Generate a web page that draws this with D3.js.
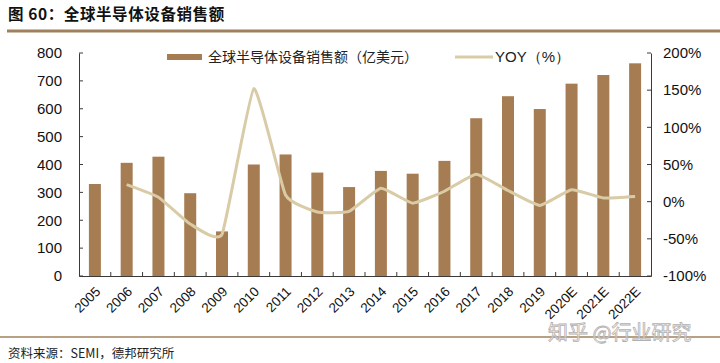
<!DOCTYPE html>
<html>
<head>
<meta charset="utf-8">
<script src="https://cdn.jsdelivr.net/npm/d3@7/dist/d3.min.js"></script>
<style>
  body { margin: 0; background: #fff; }
  svg { display: block; font-family: "Liberation Sans", Arial, sans-serif; }
</style>
</head>
<body>
<div id="chart"></div>
<script>
// Data
const years = ['2005', '2006', '2007', '2008', '2009', '2010', '2011', '2012', '2013',
  '2014', '2015', '2016', '2017', '2018', '2019', '2020E', '2021E', '2022E'];
const sales = [330, 406, 428, 297, 160, 400, 436, 371, 319, 377, 367, 413, 566, 645, 599, 690, 721, 763];
const yoy = [null, 23, 6, -30, -44, 152, 9, -14, -13, 18, -2, 14, 37, 15, -5, 16, 5, 7];
const leftTicks = [0, 100, 200, 300, 400, 500, 600, 700, 800];
const rightTicks = [-100, -50, 0, 50, 100, 150, 200];

const BAR_COLOR = '#a67d52';
const LINE_COLOR = '#d9cba5';
const AXIS_COLOR = '#3a3a3a';

const width = 720, height = 363;
const margin = { top: 53, right: 69, bottom: 87, left: 79 };
const innerW = width - margin.left - margin.right;
const innerH = height - margin.top - margin.bottom;

const svg = d3.select('#chart').append('svg')
  .attr('width', width)
  .attr('height', height);

// Title + rules
svg.append('text')
  .attr('x', 8).attr('y', 20)
  .attr('font-family', '"Noto Sans CJK SC", sans-serif')
  .attr('font-size', '15.5px')
  .attr('font-weight', 'bold')
  .attr('letter-spacing', '0.6px')
  .attr('fill', '#111')
  .text('图 60：全球半导体设备销售额');

svg.append('line')
  .attr('x1', 7).attr('x2', width).attr('y1', 31).attr('y2', 31)
  .attr('stroke', '#a0805c').attr('stroke-width', 3);

svg.append('line')
  .attr('x1', 0).attr('x2', width).attr('y1', 337).attr('y2', 337)
  .attr('stroke', '#a0805c').attr('stroke-width', 1.5);

const g = svg.append('g')
  .attr('transform', `translate(${margin.left},${margin.top})`);

const xCenter = d3.scaleBand().domain(years).range([0, innerW]);
const yLeft = d3.scaleLinear().domain([0, 800]).range([innerH, 0]);
const yRight = d3.scaleLinear().domain([-100, 200]).range([innerH, 0]);

// Bars
g.selectAll('.bar')
  .data(years)
  .join('rect')
  .attr('class', 'bar')
  .attr('x', d => xCenter(d) + xCenter.bandwidth() / 2 - 6)
  .attr('width', 12)
  .attr('y', (d, i) => yLeft(sales[i]))
  .attr('height', (d, i) => innerH - yLeft(sales[i]))
  .attr('fill', BAR_COLOR);

// YOY line
const lineData = years.map((d, i) => ({ year: d, v: yoy[i] })).filter(d => d.v !== null);
const line = d3.line()
  .x(d => xCenter(d.year) + xCenter.bandwidth() / 2)
  .y(d => yRight(d.v))
  .curve(d3.curveCardinal.tension(0.6));

g.append('path')
  .datum(lineData)
  .attr('d', line)
  .attr('fill', 'none')
  .attr('stroke', LINE_COLOR)
  .attr('stroke-width', 3)
  .attr('stroke-linejoin', 'round');

// Left axis
const leftAxis = g.append('g')
  .call(d3.axisLeft(yLeft).tickValues(leftTicks).tickSize(0).tickPadding(17));
leftAxis.select('.domain').attr('stroke', AXIS_COLOR);
leftAxis.selectAll('text').attr('font-size', '15px').attr('fill', '#111');
g.selectAll('.ltick').data(leftTicks).join('line')
  .attr('x1', 0).attr('x2', 4)
  .attr('y1', d => yLeft(d)).attr('y2', d => yLeft(d))
  .attr('stroke', AXIS_COLOR);

// Right axis
const rightAxis = g.append('g')
  .attr('transform', `translate(${innerW},0)`)
  .call(d3.axisRight(yRight).tickValues(rightTicks).tickSize(0).tickPadding(12).tickFormat(d => d + '%'));
rightAxis.select('.domain').attr('stroke', AXIS_COLOR);
rightAxis.selectAll('text').attr('font-size', '15px').attr('fill', '#111');
g.selectAll('.rtick').data(rightTicks).join('line')
  .attr('x1', innerW - 4).attr('x2', innerW)
  .attr('y1', d => yRight(d)).attr('y2', d => yRight(d))
  .attr('stroke', AXIS_COLOR);

// Bottom axis
const xAxis = g.append('g')
  .attr('transform', `translate(0,${innerH})`)
  .call(d3.axisBottom(xCenter).tickSize(0).tickFormat(''));
xAxis.select('.domain').attr('stroke', AXIS_COLOR);
g.selectAll('.xtick').data(years.slice(1)).join('line')
  .attr('x1', d => xCenter(d)).attr('x2', d => xCenter(d))
  .attr('y1', innerH - 4).attr('y2', innerH)
  .attr('stroke', AXIS_COLOR);

g.selectAll('.xlabel').data(years).join('text')
  .attr('class', 'xlabel')
  .attr('transform', d => `translate(${xCenter(d) + xCenter.bandwidth() / 2 + 3},${innerH + 13}) rotate(-45)`)
  .attr('text-anchor', 'end')
  .attr('dy', '0.35em')
  .attr('font-size', '13.5px')
  .attr('fill', '#111')
  .text(d => d);

// Legend
const legend = svg.append('g');
legend.append('rect')
  .attr('x', 167).attr('y', 54).attr('width', 35).attr('height', 6)
  .attr('fill', BAR_COLOR);
legend.append('text')
  .attr('x', 208).attr('y', 57).attr('dy', '0.35em')
  .attr('font-family', '"Noto Sans CJK SC", sans-serif')
  .attr('font-size', '14px')
  .attr('fill', '#222')
  .text('全球半导体设备销售额（亿美元）');
legend.append('line')
  .attr('x1', 455).attr('x2', 493).attr('y1', 57).attr('y2', 57)
  .attr('stroke', LINE_COLOR).attr('stroke-width', 3);
legend.append('text')
  .attr('x', 495).attr('y', 57).attr('dy', '0.35em')
  .attr('font-size', '15px')
  .attr('fill', '#222')
  .text('YOY（%）');

// Source + watermark
svg.append('text')
  .attr('x', 8).attr('y', 354).attr('dy', '0.35em')
  .attr('font-family', '"Noto Sans CJK SC", sans-serif')
  .attr('font-size', '12.5px')
  .attr('fill', '#222')
  .text('资料来源：SEMI，德邦研究所');

svg.append('text')
  .attr('x', 548).attr('y', 333).attr('dy', '0.35em')
  .attr('font-family', '"Noto Sans CJK SC", sans-serif')
  .attr('font-size', '20px')
  .attr('fill', '#fff')
  .attr('fill-opacity', 0.6)
  .attr('stroke', '#b0b0b0')
  .attr('stroke-width', 0.8)
  .text('知乎 @行业研究');
</script>
</body>
</html>
